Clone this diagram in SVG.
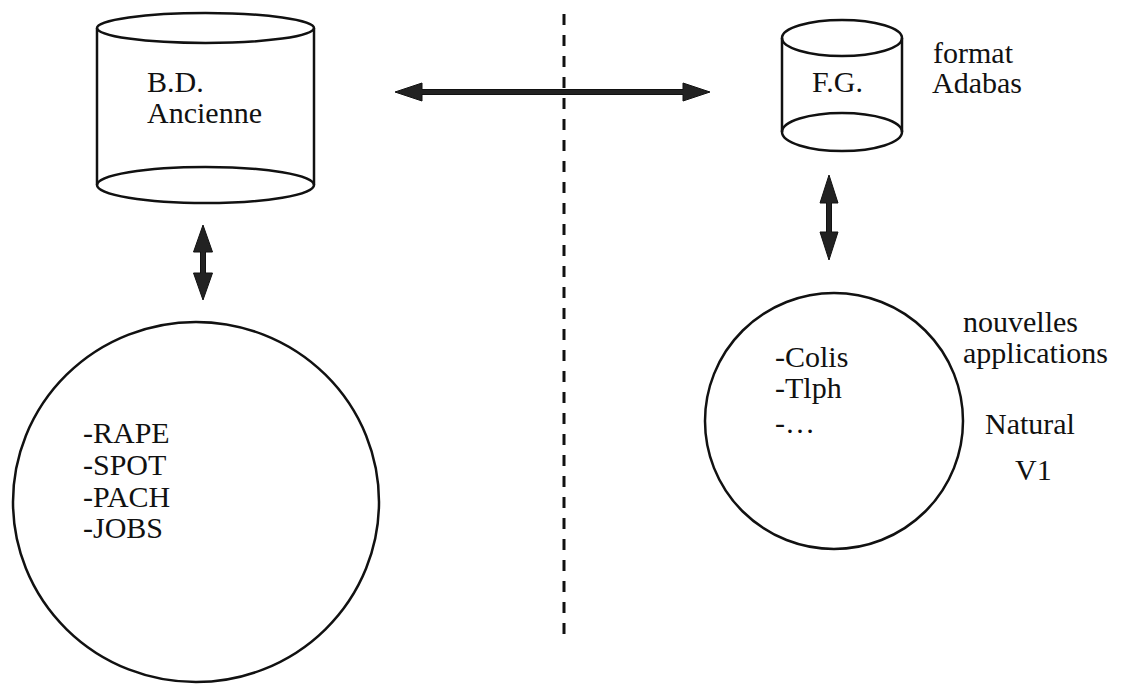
<svg xmlns="http://www.w3.org/2000/svg" width="1121" height="684" viewBox="0 0 1121 684">
<style>
.shape{fill:none;stroke:#111;stroke-width:2.5}
.arrow{fill:#222;stroke:#111;stroke-width:1}
.sep{stroke:#111;stroke-width:3;stroke-dasharray:11 10}
text{font-family:"Liberation Serif","Times New Roman",serif;font-size:30px;fill:#111}
</style>
<rect width="1121" height="684" fill="#fff"/>
<g id="separator">
<line class="sep" x1="564" y1="14" x2="564" y2="640"/>
</g>
<g id="node-bd-ancienne">
<line class="shape" x1="97" y1="28" x2="97" y2="185"/>
<line class="shape" x1="314" y1="28" x2="314" y2="185"/>
<ellipse class="shape" cx="205.5" cy="28" rx="108.5" ry="15"/>
<ellipse class="shape" cx="205.5" cy="185" rx="108.5" ry="18"/>
<text x="147" y="92">B.D.</text>
<text x="147" y="123">Ancienne</text>
</g>
<g id="node-fg">
<line class="shape" x1="782" y1="38" x2="782" y2="132"/>
<line class="shape" x1="902" y1="38" x2="902" y2="132"/>
<ellipse class="shape" cx="842" cy="38" rx="60" ry="18"/>
<ellipse class="shape" cx="842" cy="132" rx="60" ry="19"/>
<text x="812" y="92">F.G.</text>
<text x="933" y="63">format</text>
<text x="932" y="93">Adabas</text>
</g>
<g id="node-old-apps">
<ellipse class="shape" cx="196" cy="502" rx="183" ry="180"/>
<text x="83" y="443">-RAPE</text>
<text x="83" y="475">-SPOT</text>
<text x="83" y="507">-PACH</text>
<text x="83" y="538">-JOBS</text>
</g>
<g id="node-new-apps">
<ellipse class="shape" cx="834" cy="421" rx="129" ry="128"/>
<text x="775" y="367">-Colis</text>
<text x="775" y="398">-Tlph</text>
<text x="775" y="433">-…</text>
<text x="963" y="332">nouvelles</text>
<text x="963" y="363">applications</text>
<text x="985" y="434">Natural</text>
<text x="1015" y="480">V1</text>
</g>
<g id="connectors">
<polygon class="arrow" points="395,92 422,83 422,89.5 683,89.5 683,83 710,92 683,101 683,94.5 422,94.5 422,101"/>
<polygon class="arrow" points="203,225 212.5,252 205.5,252 205.5,273 212.5,273 203,300 193.5,273 200.5,273 200.5,252 193.5,252"/>
<polygon class="arrow" points="829,175 838,203 831.5,203 831.5,232 838,232 829,260 820,232 826.5,232 826.5,203 820,203"/>
</g>
</svg>
